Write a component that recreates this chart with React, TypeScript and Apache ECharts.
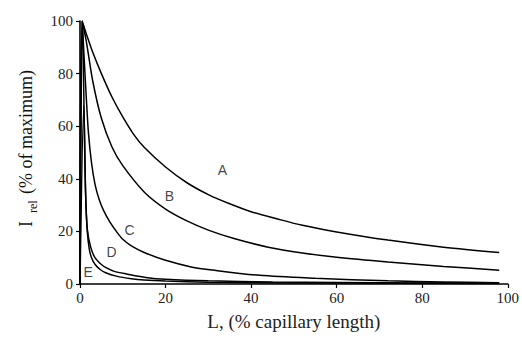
import React, { useEffect, useRef } from "react";
import * as echarts from "echarts";

const xTicks = [0, 20, 40, 60, 80, 100];
const yTicks = [0, 20, 40, 60, 80, 100];

const curveA: [number, number][] = [
  [0, 0], [0.5, 100], [1.5, 95], [3, 88], [5, 80], [7.5, 71], [10, 63.5], [12.5, 57],
  [15, 52], [20, 44.5], [25, 38.5], [30, 34], [35, 30.5], [40, 27.5], [46, 24.8],
  [52, 22.3], [60, 19.8], [72, 16.7], [85, 14], [98, 12],
];
const curveB: [number, number][] = [
  [0, 0], [0.5, 100], [1.5, 92], [3, 77], [5, 63], [7.5, 52], [10, 45], [15, 35],
  [20, 28.5], [25, 24], [30, 20.5], [36, 17.3], [44, 14], [52, 11.8], [60, 10.2],
  [72, 8.4], [85, 6.7], [98, 5.2],
];
const curveC: [number, number][] = [
  [0, 0], [0.5, 100], [1, 85], [1.5, 70], [2, 57], [2.7, 46], [3.5, 38], [4.5, 32],
  [5.5, 28], [7, 23.5], [8.5, 20], [10, 17], [12, 14.5], [15, 12], [20, 9], [26, 6.5],
  [31, 5.3], [42, 3.3], [55, 2.2], [72, 1.2], [85, 0.8], [98, 0.5],
];
const curveD: [number, number][] = [
  [0, 0], [0.6, 100], [1.0, 60], [1.3, 35], [1.7, 21], [2.5, 14], [3.5, 10], [5, 7.4],
  [6.2, 6.1], [8, 4.8], [10.9, 3.8], [15.8, 2.4], [20, 1.8], [30, 1.2], [45, 0.8],
  [60, 0.6], [80, 0.4], [98, 0.3],
];
const curveE: [number, number][] = [
  [0, 0], [0.9, 68], [1.3, 35], [1.7, 20], [2.2, 13], [2.7, 10], [3.5, 7.5], [4.7, 5.5],
  [6, 4.3], [8.5, 3.0], [12, 2], [15, 1.5], [20, 1.1], [30, 0.7], [50, 0.4], [75, 0.3],
  [98, 0.2],
];

const curveNames = ["A", "B", "C", "D", "E"];
const curves = [curveA, curveB, curveC, curveD, curveE];
const labelPositions: [number, number][] = [
  [33.3, 43.3], [20.9, 33.5], [11.6, 20.5], [7.4, 12.2], [1.9, 4.6],
];
const yTitleMain = "I";
const yTitleSub = "rel";
const yTitleRest = "(% of maximum)";
const xTitle = "L, (% capillary length)";

export default function App() {
  const ref = useRef<HTMLDivElement>(null);
  useEffect(() => {
    document.body.style.margin = "0";
    const chart = echarts.init(ref.current!, undefined, { renderer: "svg" });
    const serif = "'Liberation Serif', 'Times New Roman', serif";
    const series: any[] = curves.map((c, i) => ({
      type: "line",
      name: curveNames[i],
      data: c,
      showSymbol: false,
      symbol: "none",
      smooth: 0.3,
      lineStyle: { color: "#000", width: 1.5 },
      z: 3,
    }));
    series.push({
      type: "scatter",
      name: "labels",
      symbolSize: 0,
      data: labelPositions.map((p, i) => ({ value: p, name: curveNames[i] })),
      label: {
        show: true,
        position: "inside",
        formatter: (p: any) => p.name,
        fontFamily: "Liberation Sans",
        fontSize: 14,
        color: "#111",
      },
      z: 4,
    });
    chart.setOption({
      animation: false,
      backgroundColor: "#fff",
      grid: { left: 80, right: 12, top: 21, bottom: 63, containLabel: false },
      graphic: [
        {
          type: "group",
          x: 26,
          y: 149,
          rotation: Math.PI / 2,
          children: [
            {
              type: "text",
              x: -78,
              y: 0,
              style: { text: yTitleMain, font: `18px ${serif}`, fill: "#111", verticalAlign: "middle", align: "left" },
            },
            {
              type: "text",
              x: -64,
              y: 7,
              style: { text: yTitleSub, font: `12px ${serif}`, fill: "#111", verticalAlign: "middle", align: "left" },
            },
            {
              type: "text",
              x: -45,
              y: 0,
              style: { text: yTitleRest, font: `18px ${serif}`, fill: "#111", verticalAlign: "middle", align: "left" },
            },
          ],
        },
      ],
      xAxis: {
        type: "value",
        min: 0,
        max: 100,
        interval: 20,
        name: xTitle,
        nameLocation: "middle",
        nameGap: 28,
        nameTextStyle: { fontFamily: serif, fontSize: 19, color: "#222" },
        axisLine: { lineStyle: { color: "#000", width: 1.6 } },
        axisTick: { show: true, length: 4, lineStyle: { color: "#000", width: 1.2 } },
        axisLabel: { fontFamily: serif, fontSize: 15, color: "#222", margin: 6 },
        splitLine: { show: false },
      },
      yAxis: {
        type: "value",
        min: 0,
        max: 100,
        interval: 20,
        axisLine: { lineStyle: { color: "#000", width: 1.6 } },
        axisTick: { show: true, length: 4, lineStyle: { color: "#000", width: 1.2 } },
        axisLabel: { fontFamily: serif, fontSize: 15, color: "#222", margin: 7 },
        splitLine: { show: false },
      },
      series,
    });
    return () => chart.dispose();
  }, []);
  return <div ref={ref} style={{ width: 522, height: 347 }} />;
}
